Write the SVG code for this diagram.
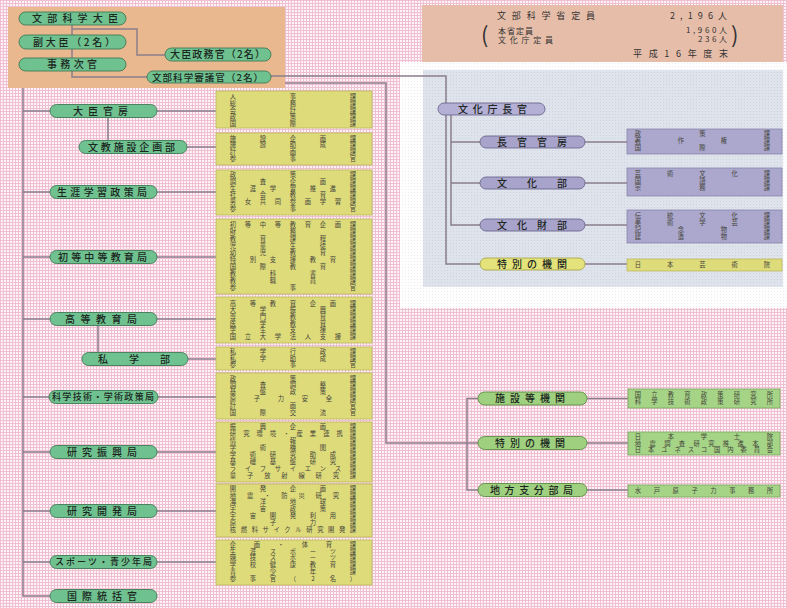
<svg xmlns="http://www.w3.org/2000/svg" width="787" height="608" viewBox="0 0 787 608">
<defs>
<pattern id="bgp" width="3" height="3" patternUnits="userSpaceOnUse"><rect width="3" height="3" fill="#fdf2f6"/><rect width="3" height="1" fill="#eec0d1"/><rect width="1" height="3" fill="#eec0d1"/></pattern>
<pattern id="wp" width="3" height="3" patternUnits="userSpaceOnUse"><rect width="3" height="3" fill="#fefefe"/><rect width="1" height="1" fill="#eeeef2"/></pattern>
<pattern id="bp" width="3" height="3" patternUnits="userSpaceOnUse"><rect width="3" height="3" fill="#dfe4ec"/><rect width="1" height="1" fill="#cdd4df"/></pattern>
<style>
.ln{fill:none;stroke:#8a7e8c;stroke-width:1.5}
.pg{fill:#6fc290;stroke:#3f7b57;stroke-width:0.9}
.pl{fill:#9fd07f;stroke:#5d8f45;stroke-width:0.9}
.pp{fill:#a8a3ca;stroke:#6c668e;stroke-width:0.9}
.py{fill:#e4e27a;stroke:#a9a54c;stroke-width:0.9}
.bx{fill:#dedb7a;stroke:#bdb95c;stroke-width:0.8}
.bq{fill:#aba7cd;stroke:#8884aa;stroke-width:0.8}
.bg{fill:#a6d487;stroke:#78a85e;stroke-width:0.8}
.pt{font-family:"Noto Sans CJK JP","Noto Sans CJK SC",sans-serif;font-size:10px;font-weight:500;fill:#1b261e}
.st{font-family:"Noto Sans CJK JP","Noto Sans CJK SC",sans-serif;font-size:6.3px;fill:#45453a;text-anchor:middle}
.ht{font-family:"Noto Sans CJK JP","Noto Sans CJK SC",sans-serif;font-size:9px;fill:#333333}
</style>
</defs>
<rect width="787" height="608" fill="url(#bgp)"/>
<rect x="400" y="62" width="387" height="246" fill="url(#wp)"/>
<rect x="423" y="70" width="360" height="217" fill="url(#bp)"/>
<rect x="8" y="7" width="277" height="81" fill="#e9b88e"/>
<g id="staff">
<rect x="422" y="5" width="361" height="57" fill="#e6bda9"/>
<text class="ht" x="497" y="18.5" textLength="98" lengthAdjust="spacing">文部科学省定員</text>
<text class="ht" x="670" y="18.5" textLength="57" lengthAdjust="spacing">2,196人</text>
<text class="ht" x="498" y="34" textLength="35" lengthAdjust="spacing" style="font-size:8px">本省定員</text>
<text class="ht" x="498" y="42.5" textLength="55" lengthAdjust="spacing" style="font-size:8px">文化庁定員</text>
<text class="ht" x="686" y="33" textLength="41" lengthAdjust="spacing" style="font-size:8px">1,960人</text>
<text class="ht" x="698" y="41.5" textLength="29" lengthAdjust="spacing" style="font-size:8px">236人</text>
<text class="ht" x="481" y="43" style="font-size:22px">(</text>
<text class="ht" x="731" y="43" style="font-size:22px">)</text>
<text class="ht" x="633" y="57" textLength="95" lengthAdjust="spacing">平成16年度末</text>
</g>
<g id="connectors">
<path class="ln" d="M72 25V77H147"/>
<path class="ln" d="M72 29H137V55H165"/>
<path class="ln" d="M23 88V596H50"/>
<path class="ln" d="M23 111H50M23 192H50M23 257H50M23 319H50M23 397H50M23 452H50M23 511H50M23 562H50"/>
<path class="ln" d="M108 117V141M98 325V353"/>
<path class="ln" d="M157 111H216M187 147H216M157 192H216M157 257H216M157 319H216M188 359H216M157 397H216M157 452H216M157 511H216M157 562H216"/>
<path class="ln" d="M271 76H446V264H480"/>
<path class="ln" d="M451 115V225H480M451 142H480M451 183H480"/>
<path class="ln" d="M585 142H627M585 183H627M585 225H627M585 264H627"/>
<path class="ln" d="M285 83H386V443H467"/>
<path class="ln" d="M478 398.5H467V490H478M467 443H478"/>
<path class="ln" d="M587 398.5H628M587 443H628M587 490H628"/>
</g>
<g id="n-daijin"><rect class="pg" x="19" y="12" width="107" height="13" rx="6.5"/><text class="pt" x="32" y="22.2" textLength="86" lengthAdjust="spacing">文部科学大臣</text></g>
<g id="n-fukudaijin"><rect class="pg" x="19" y="35" width="107" height="14" rx="7"/><text class="pt" x="33" y="45.6" textLength="82" lengthAdjust="spacing">副大臣（2名）</text></g>
<g id="n-jimujikan"><rect class="pg" x="19" y="58" width="107" height="13" rx="6.5"/><text class="pt" x="47" y="68.2" textLength="50" lengthAdjust="spacing">事務次官</text></g>
<g id="n-seimukan"><rect class="pg" x="165" y="48" width="106" height="13" rx="6.5"/><text class="pt" x="170" y="58.2" textLength="95" lengthAdjust="spacing">大臣政務官（2名）</text></g>
<g id="n-shingikan"><rect class="pg" x="147" y="71" width="124" height="12" rx="6"/><text class="pt" x="152" y="80.6" textLength="111" lengthAdjust="spacing" style="font-size:9.5px">文部科学審議官（2名）</text></g>
<g id="n-kanbo"><rect class="pg" x="50" y="104.5" width="107" height="13" rx="6.5"/><text class="pt" x="73" y="114.6" textLength="55" lengthAdjust="spacing">大臣官房</text>
<rect class="bx" x="216" y="91" width="156" height="37"/>
<text class="st" x="233 293 353" y="99.3">人事課</text>
<text class="st" x="233 293 353" y="105.9">総務課</text>
<text class="st" x="233 293 353" y="112.5">会計課</text>
<text class="st" x="233 293 353" y="119.1">政策課</text>
<text class="st" x="233 293 353" y="125.7">国際課</text></g>
<g id="n-shisetsu"><rect class="pg" x="79" y="140.5" width="108" height="13" rx="6.5"/><text class="pt" x="88" y="150.6" textLength="87" lengthAdjust="spacing">文教施設企画部</text>
<rect class="bx" x="216" y="133" width="156" height="32"/>
<text class="st" x="233 263 293 323 353" y="140.8">施設企画課</text>
<text class="st" x="233 263 293 323 353" y="147.4">施設助成課</text>
<text class="st" x="233 293 353" y="154">計画課</text>
<text class="st" x="233 293 353" y="160.6">参事官</text></g>
<g id="n-shogai"><rect class="pg" x="50" y="185.5" width="107" height="13" rx="6.5"/><text class="pt" x="57" y="195.6" textLength="90" lengthAdjust="spacing">生涯学習政策局</text>
<rect class="bx" x="216" y="170" width="156" height="45"/>
<text class="st" x="233 293 353" y="177.3">政策課</text>
<text class="st" x="233 263 293 323 353" y="184">調査企画課</text>
<text class="st" x="233 253 273 293 313 333 353" y="190.6">生涯学習推進課</text>
<text class="st" x="233 263 293 323 353" y="197.3">社会教育課</text>
<text class="st" x="233 248 263 278 293 308 323 338 353" y="204">男女共同参画学習課</text>
<text class="st" x="233 293 353" y="210.6">参事官</text></g>
<g id="n-shochu"><rect class="pg" x="50" y="250.5" width="107" height="13" rx="6.5"/><text class="pt" x="58" y="260.6" textLength="89" lengthAdjust="spacing">初等中等教育局</text>
<rect class="bx" x="216" y="219" width="156" height="75"/>
<text class="st" x="233 248 263 278 293 308 323 338 353" y="227.3">初等中等教育企画課</text>
<text class="st" x="233 293 353" y="234.3">財務課</text>
<text class="st" x="233 263 293 323 353" y="241.3">教育課程課</text>
<text class="st" x="233 263 293 323 353" y="248.3">児童生徒課</text>
<text class="st" x="233 263 293 323 353" y="255.3">幼児教育課</text>
<text class="st" x="233 253 273 293 313 333 353" y="262.3">特別支援教育課</text>
<text class="st" x="233 263 293 323 353" y="269.3">国際教育課</text>
<text class="st" x="233 273 313 353" y="276.3">教科書課</text>
<text class="st" x="233 273 313 353" y="283.3">教職員課</text>
<text class="st" x="233 293 353" y="290.3">参事官</text></g>
<g id="n-koto"><rect class="pg" x="50" y="312.5" width="107" height="13" rx="6.5"/><text class="pt" x="65" y="322.6" textLength="72" lengthAdjust="spacing">高等教育局</text>
<rect class="bx" x="216" y="297" width="156" height="46"/>
<text class="st" x="233 253 273 293 313 333 353" y="305.6">高等教育企画課</text>
<text class="st" x="233 263 293 323 353" y="312.3">大学振興課</text>
<text class="st" x="233 263 293 323 353" y="319">専門教育課</text>
<text class="st" x="233 263 293 323 353" y="325.6">医学教育課</text>
<text class="st" x="233 263 293 323 353" y="332.3">学生支援課</text>
<text class="st" x="233 248 263 278 293 308 323 338 353" y="339">国立大学法人支援課</text></g>
<g id="n-shigaku"><rect class="pg" x="82" y="352.5" width="106" height="13" rx="6.5"/><text class="pt" x="98" y="362.6" textLength="72" lengthAdjust="spacing">私学部</text>
<rect class="bx" x="216" y="347" width="156" height="23"/>
<text class="st" x="233 263 293 323 353" y="354">私学行政課</text>
<text class="st" x="233 263 293 323 353" y="360.6">私学助成課</text>
<text class="st" x="233 293 353" y="367.3">参事官</text></g>
<g id="n-kagaku"><rect class="pg" x="49" y="390.5" width="109" height="13" rx="6.5"/><text class="pt" x="52" y="400.3" textLength="102" lengthAdjust="spacing" style="font-size:9px">科学技術・学術政策局</text>
<rect class="bx" x="216" y="373" width="156" height="46"/>
<text class="st" x="233 293 353" y="380.6">政策課</text>
<text class="st" x="233 263 293 323 353" y="387.4">調査調整課</text>
<text class="st" x="233 263 293 323 353" y="394.3">基盤政策課</text>
<text class="st" x="233 257 281 305 329 353" y="401.1">原子力安全課</text>
<text class="st" x="233 293 353" y="408">計画官</text>
<text class="st" x="233 263 293 323 353" y="414.8">国際交流官</text></g>
<g id="n-shinko"><rect class="pg" x="50" y="445.5" width="107" height="13" rx="6.5"/><text class="pt" x="67" y="455.6" textLength="70" lengthAdjust="spacing">研究振興局</text>
<rect class="bx" x="216" y="422" width="156" height="60"/>
<text class="st" x="233 263 293 323 353" y="429.3">振興企画課</text>
<text class="st" x="233 246.3 259.7 273 286.3 299.7 313 326.3 339.7 353" y="436.3">研究環境・産業連携課</text>
<text class="st" x="233 293 353" y="443.3">情報課</text>
<text class="st" x="233 263 293 323 353" y="450.3">学術機関課</text>
<text class="st" x="233 253 273 293 313 333 353" y="457.3">学術研究助成課</text>
<text class="st" x="233 253 273 293 313 333 353" y="464.3">基礎基盤研究課</text>
<text class="st" x="233 248 263 278 293 308 323 338 353" y="471.3">ライフサイエンス課</text>
<text class="st" x="233 250.1 267.3 284.4 301.6 318.7 335.9 353" y="478.3">量子放射線研究課</text></g>
<g id="n-kaihatsu"><rect class="pg" x="50" y="504.5" width="107" height="13" rx="6.5"/><text class="pt" x="67" y="514.6" textLength="70" lengthAdjust="spacing">研究開発局</text>
<rect class="bx" x="216" y="484" width="156" height="53"/>
<text class="st" x="233 263 293 323 353" y="490.8">開発企画課</text>
<text class="st" x="233 250.1 267.3 284.4 301.6 318.7 335.9 353" y="497.6">地震・防災研究課</text>
<text class="st" x="233 263 293 323 353" y="504.4">海洋地球課</text>
<text class="st" x="233 263 293 323 353" y="511.2">宇宙政策課</text>
<text class="st" x="233 253 273 293 313 333 353" y="518">宇宙開発利用課</text>
<text class="st" x="233 273 313 353" y="524.8">原子力課</text>
<text class="st" x="233 243.9 254.8 265.7 276.6 287.5 298.5 309.4 320.3 331.2 342.1 353" y="531.6">核燃料サイクル研究開発課</text></g>
<g id="n-sports"><rect class="pg" x="50" y="555.5" width="107" height="13" rx="6.5"/><text class="pt" x="55" y="565.3" textLength="97" lengthAdjust="spacing" style="font-size:9px">スポーツ・青少年局</text>
<rect class="bx" x="216" y="540" width="156" height="45"/>
<text class="st" x="233 257 281 305 329 353" y="546.8">企画・体育課</text>
<text class="st" x="233 253 273 293 313 333 353" y="553.6">生涯スポーツ課</text>
<text class="st" x="233 253 273 293 313 333 353" y="560.4">競技スポーツ課</text>
<text class="st" x="233 253 273 293 313 333 353" y="567.2">学校健康教育課</text>
<text class="st" x="233 273 313 353" y="574">青少年課</text>
<text class="st" x="233 253 273 293 313 333 353" y="580.8">参事官（2名）</text></g>
<g id="n-kokusai"><rect class="pg" x="50" y="589.5" width="107" height="13" rx="6.5"/><text class="pt" x="67" y="599.6" textLength="70" lengthAdjust="spacing">国際統括官</text></g>
<g id="n-bunkacho"><rect class="pp" x="438" y="103" width="107" height="12" rx="6" style="fill:#b4afd4"/><text class="pt" x="458" y="112.6" textLength="69" lengthAdjust="spacing">文化庁長官</text></g>
<g id="n-chokan"><rect class="pp" x="480" y="136" width="105" height="12" rx="6"/><text class="pt" x="497" y="145.6" textLength="70" lengthAdjust="spacing">長官官房</text>
<rect class="bq" x="627" y="129" width="155" height="25"/>
<text class="st" x="638 702.5 767" y="136.3">政策課</text>
<text class="st" x="638 681 724 767" y="143.3">著作権課</text>
<text class="st" x="638 702.5 767" y="150.3">国際課</text></g>
<g id="n-bunkabu"><rect class="pp" x="480" y="177" width="105" height="12" rx="6"/><text class="pt" x="497" y="186.6" textLength="70" lengthAdjust="spacing">文化部</text>
<rect class="bq" x="627" y="168" width="155" height="28"/>
<text class="st" x="638 670.25 702.5 734.75 767" y="176.3">芸術文化課</text>
<text class="st" x="638 702.5 767" y="183.3">国語課</text>
<text class="st" x="638 702.5 767" y="190.3">宗務課</text></g>
<g id="n-bunkazai"><rect class="pp" x="480" y="219" width="105" height="12" rx="6"/><text class="pt" x="497" y="228.6" textLength="70" lengthAdjust="spacing">文化財部</text>
<rect class="bq" x="627" y="210" width="155" height="33"/>
<text class="st" x="638 670.25 702.5 734.75 767" y="218">伝統文化課</text>
<text class="st" x="638 670.25 702.5 734.75 767" y="225">美術学芸課</text>
<text class="st" x="638 681 724 767" y="232">記念物課</text>
<text class="st" x="638 681 724 767" y="239">建造物課</text></g>
<g id="n-tokubetsu1"><rect class="py" x="480" y="258" width="105" height="12" rx="6"/><text class="pt" x="497" y="267.6" textLength="70" lengthAdjust="spacing">特別の機関</text>
<rect class="bx" x="627" y="259" width="155" height="12"/>
<text class="st" x="638 670.25 702.5 734.75 767" y="267.3">日本芸術院</text></g>
<g id="n-shisetsutou"><rect class="pl" x="478" y="392" width="109" height="13" rx="6.5"/><text class="pt" x="495" y="402.1" textLength="70" lengthAdjust="spacing">施設等機関</text>
<rect class="bg" x="628" y="389" width="152" height="19"/>
<text class="st" x="638 654.5 671 687.5 704 720.5 737 753.5 770" y="396.8">国立教育政策研究所</text>
<text class="st" x="638 654.5 671 687.5 704 720.5 737 753.5 770" y="403.8">科学技術政策研究所</text></g>
<g id="n-tokubetsu2"><rect class="pl" x="478" y="436.5" width="109" height="13" rx="6.5"/><text class="pt" x="495" y="446.6" textLength="70" lengthAdjust="spacing">特別の機関</text>
<rect class="bg" x="628" y="432" width="152" height="23"/>
<text class="st" x="638 671 704 737 770" y="438.8">日本学士院</text>
<text class="st" x="638 652.7 667.3 682 696.7 711.3 726 740.7 755.3 770" y="445.6">地震調査研究推進本部</text>
<text class="st" x="638 651.2 664.4 677.6 690.8 704 717.2 730.4 743.6 756.8 770" y="452.4">日本ユネスコ国内委員会</text></g>
<g id="n-chiho"><rect class="pl" x="478" y="483.5" width="109" height="13" rx="6.5"/><text class="pt" x="490" y="493.6" textLength="83" lengthAdjust="spacing">地方支分部局</text>
<rect class="bg" x="628" y="485" width="152" height="12"/>
<text class="st" x="638 656.9 675.7 694.6 713.4 732.3 751.1 770" y="493.3">水戸原子力事務所</text></g>
</svg>
